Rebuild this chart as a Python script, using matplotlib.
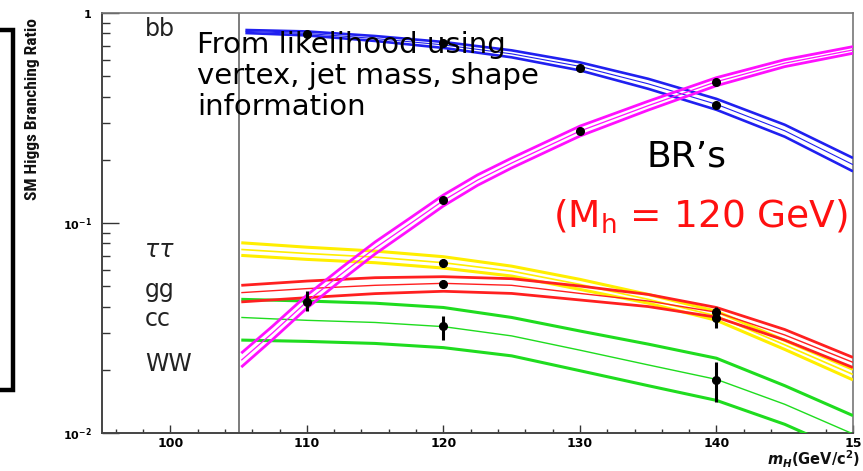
import matplotlib
matplotlib.use("Agg")
import matplotlib.pyplot as plt
from matplotlib import font_manager
from matplotlib.lines import Line2D
from matplotlib.ticker import MultipleLocator, NullFormatter

plt.rcParams["font.family"] = ["DejaVu Sans"]
plt.rcParams["mathtext.fontset"] = "custom"
plt.rcParams["mathtext.rm"] = "DejaVu Sans"
plt.rcParams["mathtext.it"] = "DejaVu Sans:italic:bold"
plt.rcParams["mathtext.bf"] = "DejaVu Sans:bold"

# ---------------------------------------------------------------- data
# Higgs mass (GeV/c^2) at which each branching-ratio band is tabulated
mass_bb = [105.5, 110, 115, 120, 125, 130, 135, 140, 145, 150]
bb_hi = [0.830, 0.817, 0.777, 0.728, 0.664, 0.582, 0.486, 0.390, 0.2937, 0.204]
bb_mid = [0.817, 0.799, 0.756, 0.705, 0.639, 0.557, 0.460, 0.3675, 0.275, 0.1896]
bb_lo = [0.803, 0.782, 0.736, 0.682, 0.615, 0.533, 0.4355, 0.346, 0.2576, 0.1762]

mass_ww = [105.2, 107.5, 110, 112.5, 115, 117.5, 120, 122.5, 125, 130, 135, 140, 145, 150]
ww_hi = [0.0240, 0.0323, 0.0453, 0.0610, 0.0812, 0.1049, 0.1359, 0.1694, 0.2038,
         0.2893, 0.3801, 0.4922, 0.5995, 0.6917]
ww_mid = [0.0222, 0.0300, 0.0422, 0.0570, 0.0760, 0.0985, 0.128, 0.160, 0.193,
          0.274, 0.362, 0.471, 0.577, 0.667]
ww_lo = [0.0206, 0.0279, 0.0393, 0.0532, 0.0712, 0.0925, 0.1205, 0.1511, 0.1828,
         0.2595, 0.3448, 0.4507, 0.5553, 0.6432]

mass_low = [105.2, 110, 115, 120, 125, 130, 135, 140, 145, 150]
tautau_hi = [0.0805, 0.0767, 0.0735, 0.0691, 0.0623, 0.0539, 0.0457, 0.0380, 0.0276, 0.0201]
tautau_mid = [0.0748, 0.0716, 0.0688, 0.0647, 0.0590, 0.0510, 0.0433, 0.0361, 0.0263, 0.0190]
tautau_lo = [0.0701, 0.0671, 0.0647, 0.0610, 0.0559, 0.0483, 0.0415, 0.0344, 0.0250, 0.0179]

gg_hi = [0.0505, 0.0529, 0.0549, 0.0555, 0.0543, 0.0501, 0.0457, 0.0396, 0.0311, 0.0229]
gg_mid = [0.0466, 0.0487, 0.0505, 0.0516, 0.0505, 0.0462, 0.0425, 0.0376, 0.0293, 0.0217]
gg_lo = [0.0421, 0.0441, 0.0461, 0.0473, 0.0462, 0.0430, 0.0400, 0.0356, 0.0277, 0.0205]

cc_hi = [0.0433, 0.0425, 0.0415, 0.0396, 0.0355, 0.0306, 0.0265, 0.0227, 0.0168, 0.0121]
cc_mid = [0.0355, 0.0344, 0.0336, 0.0321, 0.0290, 0.0248, 0.0211, 0.0180, 0.0137, 0.0099]
cc_lo = [0.0277, 0.0273, 0.0267, 0.0255, 0.0233, 0.0198, 0.0168, 0.0143, 0.0110, 0.0079]

# Measured branching ratios with their uncertainties
pts_bb_mass = [110, 120, 130, 140]
pts_bb = [0.794, 0.717, 0.548, 0.365]
pts_bb_err = [0.0, 0.0, 0.0, 0.0]

pts_ww_mass = [110, 120, 130, 140]
pts_ww = [0.0422, 0.128, 0.274, 0.471]
pts_ww_err_lo = [0.0041, 0.0, 0.0, 0.0]
pts_ww_err_hi = [0.0052, 0.0, 0.0, 0.0]

pts_tautau_mass = [120, 140]
pts_tautau = [0.0647, 0.0352]
pts_tautau_err_lo = [0.0030, 0.0035]
pts_tautau_err_hi = [0.0030, 0.0045]

pts_gg_mass = [120, 140]
pts_gg = [0.0513, 0.0376]
pts_gg_err_lo = [0.0022, 0.0015]
pts_gg_err_hi = [0.0025, 0.0015]

pts_cc_mass = [120, 140]
pts_cc = [0.0322, 0.0178]
pts_cc_err_lo = [0.0045, 0.0037]
pts_cc_err_hi = [0.0039, 0.0040]

x_ticks = [100, 110, 120, 130, 140, 150]
x_tick_labels = ["100", "110", "120", "130", "140", "15"]
y_ticks = [0.01, 0.1, 1]
y_tick_labels = [r"$\mathbf{10^{-2}}$", r"$\mathbf{10^{-1}}$", r"$\mathbf{1}$"]
channel_labels = ["bb", "ττ", "gg", "cc", "WW"]

# ---------------------------------------------------------------- figure
W, H = 863, 471
fig = plt.figure(figsize=(W / 100, H / 100), dpi=100)
fig.patch.set_facecolor("white")
ax = fig.add_axes([102 / W, 1 - 433 / H, 751 / W, 420 / H])
ax.set_yscale("log")
ax.set_xlim(95, 150)
ax.set_ylim(0.01, 1)

# lower edge of the scanned mass region
ax.axvline(105, color="#666666", lw=1.2, zorder=2)


def band(x, hi, mid, lo, color, outer=1.9, inner=0.9, z=3):
    ax.plot(x, hi, color=color, lw=outer, solid_capstyle="butt", zorder=z)
    ax.plot(x, lo, color=color, lw=outer, solid_capstyle="butt", zorder=z)
    ax.plot(x, mid, color=color, lw=inner, solid_capstyle="butt", zorder=z)


GREEN = "#1fdc1f"
RED = "#ff2020"
YELLOW = "#ffee00"
MAGENTA = "#ff10ff"
BLUE = "#2020f0"

band(mass_low, cc_hi, cc_mid, cc_lo, GREEN, outer=2.2, inner=1.0, z=3)
band(mass_low, gg_hi, gg_mid, gg_lo, RED, outer=2.0, inner=1.0, z=3.2)
band(mass_low, tautau_hi, tautau_mid, tautau_lo, YELLOW, outer=2.2, inner=1.2, z=3.1)
band(mass_bb, bb_hi, bb_mid, bb_lo, BLUE, outer=1.9, inner=0.8, z=3.4)
band(mass_ww, ww_hi, ww_mid, ww_lo, MAGENTA, outer=2.0, inner=0.9, z=3.5)

# measured points
err_style = dict(fmt="o", color="black", ms=5.5, elinewidth=2.2, capsize=0, zorder=6)
ax.errorbar(pts_bb_mass, pts_bb, yerr=pts_bb_err, **err_style)
ax.errorbar(pts_ww_mass, pts_ww, yerr=[pts_ww_err_lo, pts_ww_err_hi], **err_style)
ax.errorbar(pts_tautau_mass, pts_tautau, yerr=[pts_tautau_err_lo, pts_tautau_err_hi], **err_style)
ax.errorbar(pts_gg_mass, pts_gg, yerr=[pts_gg_err_lo, pts_gg_err_hi], **err_style)
ax.errorbar(pts_cc_mass, pts_cc, yerr=[pts_cc_err_lo, pts_cc_err_hi], **err_style)

# ---------------------------------------------------------------- axes styling
for side in ["left", "bottom"]:
    ax.spines[side].set_color("#444444")
    ax.spines[side].set_linewidth(1.4)
for side in ["top", "right"]:
    ax.spines[side].set_color("#777777")
    ax.spines[side].set_linewidth(1.2)

ax.set_xticks(x_ticks)
ax.set_xticklabels(x_tick_labels, fontsize=9, fontweight="bold")
ax.xaxis.set_minor_locator(MultipleLocator(2))
ax.tick_params(axis="x", which="major", direction="in", length=5.5, width=1.0,
               pad=3, color="#333333", top=False)
ax.tick_params(axis="x", which="minor", direction="in", length=2.8, width=1.0,
               color="#333333", top=False)

ax.set_yticks(y_ticks)
ax.set_yticklabels(y_tick_labels, fontsize=8)
ax.yaxis.set_minor_formatter(NullFormatter())
ax.tick_params(axis="y", which="major", direction="in", length=12, width=1.0,
               pad=7, color="#333333", right=False)
ax.tick_params(axis="y", which="minor", direction="in", length=6, width=1.0,
               color="#333333", right=False)

# channel names
label_x = 98.15
label_y = [0.777, 0.0687, 0.0445, 0.0322, 0.0197]
for name, yv in zip(channel_labels, label_y):
    style = "italic" if name == "ττ" else "normal"
    ax.text(label_x, yv, name, fontsize=17, color="#222222", va="baseline",
            ha="left", style=style, zorder=7)

# annotations
note_lines = ["From likelihood using", "vertex, jet mass, shape", "information"]
note_y = [0.646, 0.460, 0.328]
for line, yv in zip(note_lines, note_y):
    ax.text(101.96, yv, line, fontsize=21, color="black", va="baseline",
            ha="left", zorder=8)

ax.text(134.9, 0.1862, "BR’s", fontsize=26, color="black", va="baseline",
        ha="left", zorder=8)
ax.text(128.0, 0.0948, r"(M$_{\mathregular{h}}$ = 120 GeV)", fontsize=27,
        color="#ff1010", va="baseline", ha="left", zorder=8)

# axis titles
names = {f.name for f in font_manager.fontManager.ttflist}
yl_family, yl_size = "DejaVu Sans", 9.2
for fam, size in [("Liberation Sans Narrow", 13.4), ("DejaVu Sans Condensed", 10.2),
                  ("Roboto Condensed", 12.5), ("Liberation Sans", 11.0)]:
    if fam in names:
        yl_family, yl_size = fam, size
        break
fig.text(33 / W, 1 - 109 / H, "SM Higgs Branching Ratio", rotation=90,
         ha="center", va="center", fontsize=yl_size, fontweight="bold",
         family=yl_family, color="#111111")

fig.text(860 / W, 1 - 465.5 / H, r"$m_H$(GeV/c$^{\mathbf{2}}$)", ha="right",
         va="baseline", fontsize=10.5, fontweight="bold", color="#111111")

# bracket at the left margin
fig.add_artist(Line2D([0, 12.5 / W, 12.5 / W, 0],
                      [1 - 30 / H, 1 - 30 / H, 1 - 389.5 / H, 1 - 389.5 / H],
                      transform=fig.transFigure, color="black", lw=3.2,
                      solid_joinstyle="miter"))

fig.savefig("out.png", dpi=100, facecolor="white")
